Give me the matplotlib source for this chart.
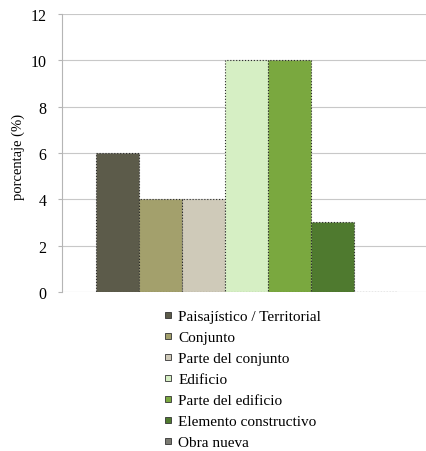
import numpy as np
import matplotlib.pyplot as plt
from matplotlib.lines import Line2D

# datos
categorias = ['Paisajístico / Territorial', 'Conjunto', 'Parte del conjunto',
              'Edificio', 'Parte del edificio', 'Elemento constructivo', 'Obra nueva']
valores = [6, 4, 4, 10, 10, 3, 0]
colores = ['#5c5b4a', '#a3a06c', '#cfcab9', '#d6efc4', '#7aa83f', '#4f7a2f', '#7a7a72']
ticks_y = [0, 2, 4, 6, 8, 10, 12]

plt.rcParams['font.family'] = ['Liberation Serif', 'DejaVu Serif']

fig = plt.figure(figsize=(4.27, 4.52), dpi=100)
ax = fig.add_axes([0.145, 0.352, 0.855, 0.615])

x = np.arange(len(valores))
ax.bar(x, valores, width=1.0, color=colores, edgecolor='#2b2b2b',
       linewidth=0.8, linestyle=':', zorder=3)

ax.set_ylim(0, 12)
ax.set_xlim(-1.29, 7.2)
ax.set_yticks(ticks_y)
ax.set_xticks([])
ax.yaxis.grid(True, color='#c8c8c8', linewidth=0.8, zorder=0)
for s in ['top', 'right', 'bottom']:
    ax.spines[s].set_visible(False)
ax.spines['left'].set_color('#b5b5b5')
ax.spines['left'].set_linewidth(0.8)
ax.tick_params(axis='y', length=3, color='#b5b5b5', labelsize=11.5, pad=8)
ax.set_ylabel('porcentaje (%)', fontsize=10.5)
ax.yaxis.set_label_coords(-0.10, 0.49)

handles = [Line2D([], [], marker='s', linestyle='none', markersize=5,
                  markerfacecolor=c, markeredgecolor='#333333', markeredgewidth=0.6)
           for c in colores]
fig.legend(handles, categorias, loc='upper left', bbox_to_anchor=(0.385, 0.313),
           frameon=False, fontsize=11, handlelength=0.5,
           handletextpad=0.4, labelspacing=0.48, borderpad=0, borderaxespad=0)

fig.savefig('out.png', dpi=100)
